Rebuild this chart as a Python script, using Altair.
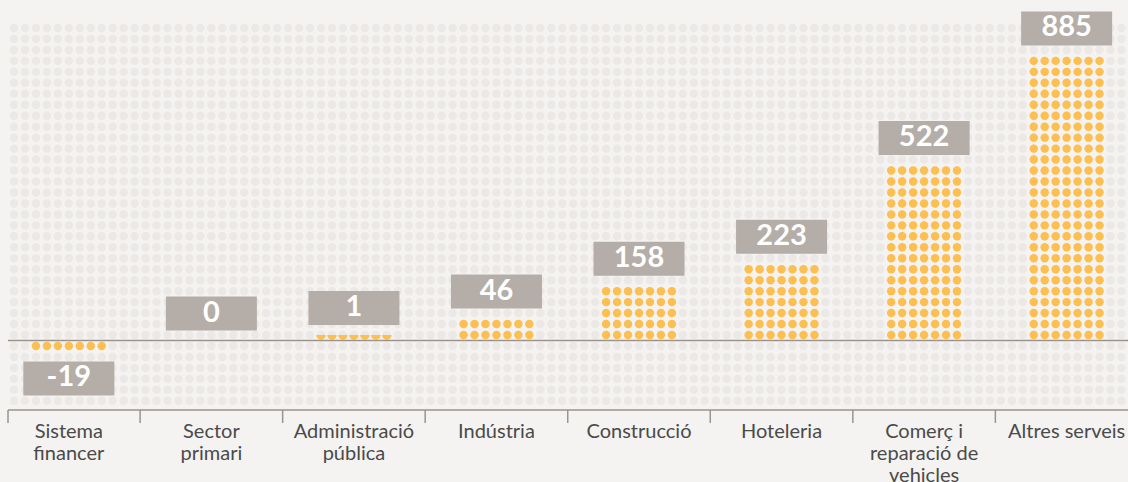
import math
import jinja2
import altair as alt
import pandas as pd

# ---- data ----
categories = [
    "Sistema financer", "Sector primari", "Administració pública", "Indústria",
    "Construcció", "Hoteleria", "Comerç i reparació de vehicles", "Altres serveis",
]
label_lines = [
    "Sistema\nfinancer", "Sector\nprimari", "Administració\npública", "Indústria",
    "Construcció", "Hoteleria", "Comerç i\nreparació de\nvehicles", "Altres serveis",
]
values = [-19, 0, 1, 46, 158, 223, 522, 885]

# ---- style constants ----
UNITS_PER_ROW = 34.5      # value represented by one row of dots
PITCH = 10.965            # pixel distance between dots
DOTS_PER_ROW = 7
COLS_PER_CAT = 13
FIRST_CENTER = 5
GRID_COLS = 102
GRID_ROW_MIN, GRID_ROW_MAX = -5, 29
W, H = 1128, 410
K = PITCH / UNITS_PER_ROW  # px per value unit
ZERO_PX = 340.5            # plot y of the zero line
XMIN = -14 / PITCH
XMAX = XMIN + W / PITCH
YMAX = ZERO_PX / K
YMIN = -(H - ZERO_PX) / K
RULE_START = -6 / PITCH

BG = "#f4f3f1"
DOT_BG = "#ebe8e5"
ORANGE = "#fdbf50"
BOX = "#b5ada7"
LINE = "#9b938d"
TEXT = "#4a4a4a"

# ---- derived tables ----
bg = pd.DataFrame(
    [{"x": c, "y": (j - 0.5) * UNITS_PER_ROW}
     for c in range(GRID_COLS) for j in range(GRID_ROW_MIN, GRID_ROW_MAX + 1)]
)

full_rows, half_rows, boxes = [], [], []
for i, (cat, v) in enumerate(zip(categories, values)):
    center = FIRST_CENTER + COLS_PER_CAT * i
    sign = -1 if v < 0 else 1
    frac = abs(v) / UNITS_PER_ROW
    offs = range(-(DOTS_PER_ROW // 2), DOTS_PER_ROW // 2 + 1)
    if frac >= 0.5:
        n = math.ceil(frac)
        for r in range(1, n + 1):
            for o in offs:
                full_rows.append({"x": center + o, "y": sign * (r - 0.5) * UNITS_PER_ROW, "cat": cat})
        anchor = sign * n * UNITS_PER_ROW
    elif frac > 0:
        for o in offs:
            half_rows.append({"x": center + o, "y": sign * 0.5 * UNITS_PER_ROW, "cat": cat})
        anchor = sign * 0.5 * UNITS_PER_ROW
    else:
        anchor = 0
    gap = 10 / K
    bh = 34 / K
    hw = 45.5 / PITCH
    y1 = anchor + sign * gap
    y2 = y1 + sign * bh
    boxes.append({
        "cat": cat, "label": str(v), "lines": label_lines[i],
        "xc": center, "x1": center - hw, "x2": center + hw,
        "y1": y1, "y2": y2, "yc": (y1 + y2) / 2,
    })
full_df = pd.DataFrame(full_rows)
half_df = pd.DataFrame(half_rows)
box_df = pd.DataFrame(boxes)

ticks = [RULE_START] + [FIRST_CENTER - COLS_PER_CAT / 2 + COLS_PER_CAT * i for i in range(1, len(categories))]
tick_df = pd.DataFrame({"x": ticks, "y": [YMIN] * len(ticks), "y2": [YMIN - 13 / K] * len(ticks)})

xs = alt.Scale(domain=[XMIN, XMAX], zero=False, nice=False)
ys = alt.Scale(domain=[YMIN, YMAX], zero=False, nice=False)


def X(f):
    return alt.X(f, type="quantitative", scale=xs, axis=None)


def Y(f):
    return alt.Y(f, type="quantitative", scale=ys, axis=None)


bg_layer = alt.Chart(bg).mark_circle(size=71, color=DOT_BG, opacity=1).encode(x=X("x"), y=Y("y"))
full_layer = alt.Chart(full_df).mark_circle(size=71, color=ORANGE, opacity=1).encode(x=X("x"), y=Y("y"))
half_layer = alt.Chart(half_df).mark_point(
    shape="M-1,0 A1,1 0 0,0 1,0 Z", size=90, filled=True, color=ORANGE, opacity=1, strokeWidth=0
).encode(x=X("x"), y=Y("y"))
rules_df = pd.DataFrame({"v": [0, YMIN], "x": [RULE_START, RULE_START], "x2": [XMAX, XMAX]})
h_rules = alt.Chart(rules_df).mark_rule(color=LINE, strokeWidth=1.5).encode(
    x=X("x"), x2="x2", y=Y("v")
)
tick_layer = alt.Chart(tick_df).mark_rule(color=LINE, strokeWidth=1.5).encode(
    x=X("x"), y=Y("y"), y2="y2"
)
box_layer = alt.Chart(box_df).mark_rect(color=BOX).encode(x=X("x1"), x2="x2", y=Y("y1"), y2="y2")
val_layer = alt.Chart(box_df).mark_text(
    font="Lato", fontWeight="bold", fontSize=29, color="white", baseline="middle", align="center", dy=-1
).encode(x=X("xc"), y=Y("yc"), text="label:N")
cat_layer = alt.Chart(box_df.assign(yb=YMIN)).mark_text(
    font="Lato", fontSize=20, color=TEXT, baseline="alphabetic", align="center",
    dy=28, lineBreak="\n", lineHeight=22
).encode(x=X("xc"), y=Y("yb"), text="lines:N")

chart = alt.layer(
    bg_layer, full_layer, half_layer, h_rules, tick_layer, box_layer, val_layer, cat_layer
).properties(
    width=W, height=H, background=BG,
    padding={"left": 0, "top": 0, "right": 0, "bottom": 72},
    autosize=alt.AutoSizeParams(type="none"),
).configure_view(strokeOpacity=0)

EMBED = {"renderer": "svg", "actions": False}
page = chart.to_html(embed_options=EMBED)
style = "<style>html,body{margin:0;padding:0;background:" + BG + ";overflow:hidden;}</style>"
if "</head>" in page:
    page = page.replace("</head>", style + "</head>", 1)
else:
    page = style + page
template = jinja2.Template(page)

chart.save("out.html", embed_options=EMBED, template=template)
